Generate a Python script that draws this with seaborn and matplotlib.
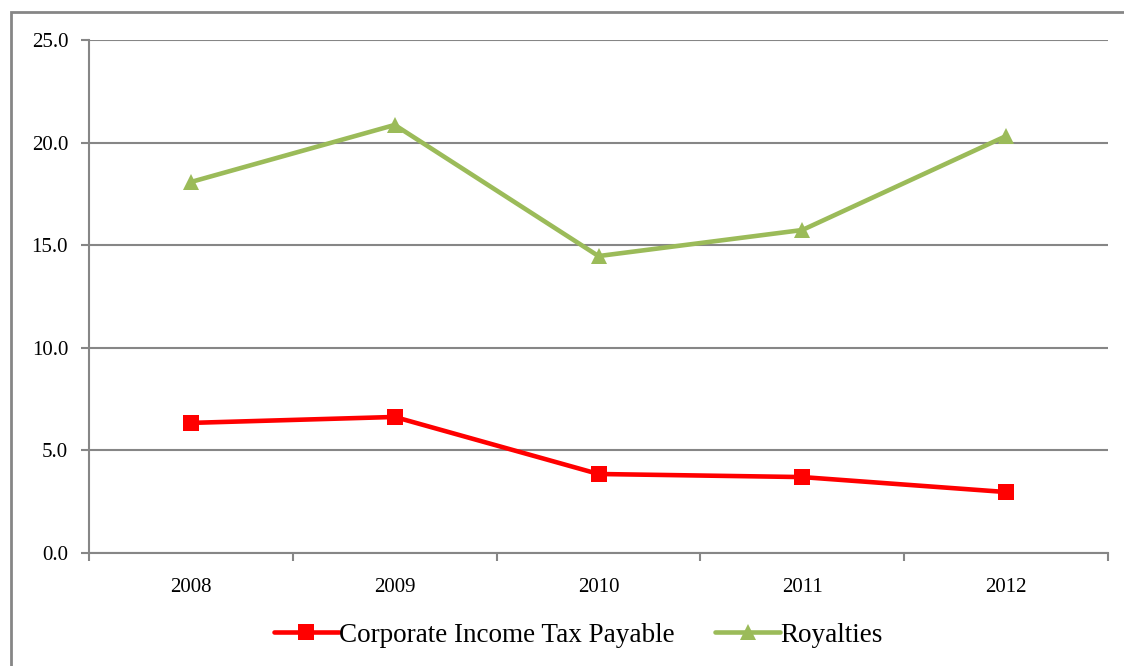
import matplotlib
matplotlib.use("Agg")
import matplotlib.pyplot as plt
import numpy as np
import pandas as pd
import seaborn as sns
from matplotlib.patches import Rectangle

years = ["2008", "2009", "2010", "2011", "2012"]
corporate_tax = [6.34, 6.63, 3.85, 3.70, 2.97]
royalties = [18.08, 20.86, 14.47, 15.74, 20.32]
y_ticks = [0.0, 5.0, 10.0, 15.0, 20.0, 25.0]

df = pd.DataFrame({
    "year": years * 2,
    "pos": list(range(len(years))) * 2,
    "value": corporate_tax + royalties,
    "series": ["Corporate Income Tax Payable"] * len(years) + ["Royalties"] * len(years),
})

sns.set_style("white")
plt.rcParams['font.family'] = ['Liberation Serif', 'DejaVu Serif']
plt.rcParams['text.color'] = 'black'
plt.rcParams['xtick.labelcolor'] = 'black'
plt.rcParams['ytick.labelcolor'] = 'black'

fig = plt.figure(figsize=(11.24, 6.66), dpi=100)
ax = fig.add_axes([89 / 1124, 1 - 553 / 666, (1108 - 89) / 1124, (553 - 40) / 666])

grey = "#868686"
colors = {"Corporate Income Tax Payable": "#FF0000", "Royalties": "#9BBB59"}
markers = {"Corporate Income Tax Payable": "s", "Royalties": "^"}

sns.lineplot(data=df, x="pos", y="value", hue="series", style="series",
             palette=colors, markers=markers, dashes=False, linewidth=3.3,
             markersize=12, markeredgewidth=0, ax=ax)

ax.set_xlim(-0.5, 4.5)
ax.set_ylim(0, 25)
ax.set_yticks(y_ticks)
ax.set_yticklabels([f"{v:.1f}" for v in y_ticks], fontsize=15)
ax.yaxis.grid(True, color=grey, linewidth=1.5)
ax.set_axisbelow(True)

# category labels centred, ticks on boundaries
ax.set_xticks(np.arange(-0.5, 5, 1))
ax.set_xticklabels([])
ax.set_xticks(range(len(years)), minor=True)
ax.set_xticklabels(years, minor=True, fontsize=15)
ax.tick_params(axis="x", which="minor", bottom=False, length=0, pad=18)
ax.tick_params(axis="x", which="major", bottom=True, length=6, width=1.5,
               color=grey, direction="out")
ax.tick_params(axis="y", left=True, length=6, width=1.5, color=grey,
               direction="out", pad=9)

for side in ["top", "right"]:
    ax.spines[side].set_visible(False)
for side in ["left", "bottom"]:
    ax.spines[side].set_color(grey)
    ax.spines[side].set_linewidth(1.5)

ax.set_xlabel("")
ax.set_ylabel("")

handles, labels = ax.get_legend_handles_labels()
ax.legend(handles, labels, loc="center", bbox_to_anchor=(0.48, -0.16),
          ncol=2, frameon=False, fontsize=19.5, handlelength=2.4,
          handletextpad=0.0, columnspacing=1.5)

# outer chart border (cut off at right and bottom)
fig.patches.append(Rectangle((11 / 1124, -0.1), 1.2, 1.1 - 12 / 666,
                             transform=fig.transFigure, fill=False,
                             edgecolor=grey, linewidth=2, clip_on=False))

plt.savefig("out.png", dpi=100)
